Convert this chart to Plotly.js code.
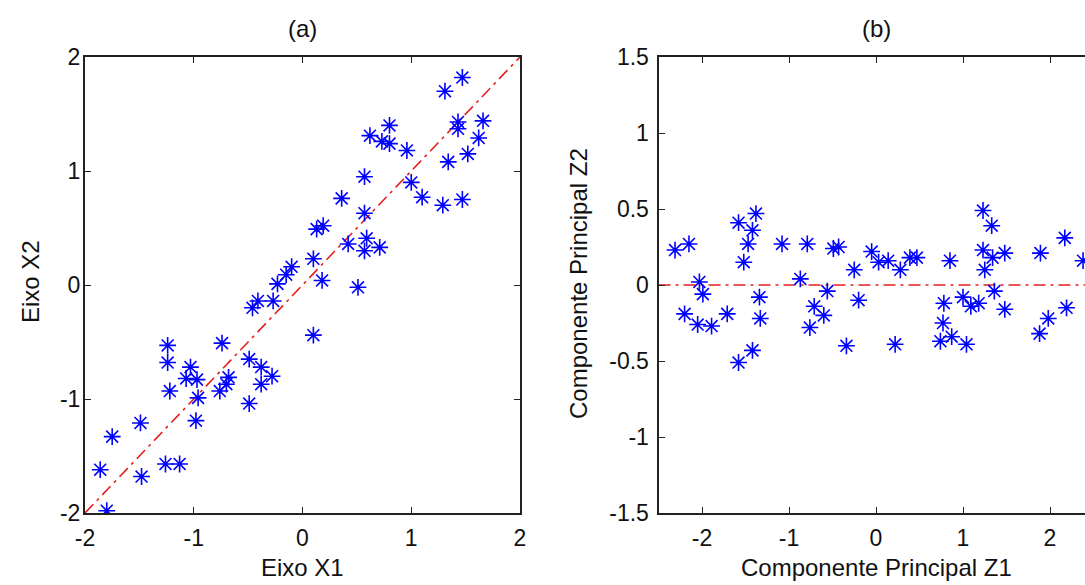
<!DOCTYPE html>
<html>
<head>
<meta charset="utf-8">
<script src="https://cdn.plot.ly/plotly-3.0.1.min.js"></script>
<style>
html, body { margin: 0; padding: 0; overflow: hidden; background: #fff; }
#chart { width: 1100px; height: 585px; }
</style>
</head>
<body>
<div id="chart"></div>
<script>
// (a) original variables
const eixoX1 = [1.47, 1.31, 0.80, 0.62, 0.73, 0.80, 0.96, 1.43, 1.43, 1.66, 1.62, 1.52, 1.34, 0.57, 1.00, 1.10, 1.29, 1.47, 0.36, 0.57, 0.13, 0.19, 0.42, 0.59, 0.57, 0.71, 0.10, -0.10, -0.15, 0.18, 0.51, 0.10, -0.23, -0.41, -0.46, -0.27, -0.74, -1.24, -1.24, -1.03, -1.07, -0.97, -1.22, -0.96, -0.76, -0.70, -0.68, -0.49, -0.38, -0.28, -0.38, -0.49, -0.98, -1.49, -1.75, -1.26, -1.13, -1.48, -1.86, -1.80];
const eixoX2 = [1.82, 1.70, 1.40, 1.31, 1.26, 1.24, 1.18, 1.43, 1.37, 1.44, 1.29, 1.15, 1.08, 0.95, 0.90, 0.77, 0.70, 0.75, 0.76, 0.63, 0.49, 0.52, 0.36, 0.41, 0.30, 0.33, 0.23, 0.16, 0.09, 0.04, -0.02, -0.44, 0.01, -0.14, -0.20, -0.14, -0.51, -0.53, -0.68, -0.72, -0.82, -0.83, -0.93, -0.99, -0.93, -0.87, -0.81, -0.65, -0.72, -0.80, -0.87, -1.04, -1.19, -1.21, -1.33, -1.57, -1.57, -1.68, -1.62, -1.98];

// (b) principal components
const compZ1 = [-2.31, -2.15, -2.03, -1.99, -2.20, -2.05, -1.89, -1.71, -1.58, -1.38, -1.42, -1.47, -1.52, -1.34, -1.33, -1.42, -1.58, -1.08, -0.79, -0.87, -0.56, -0.71, -0.60, -0.76, -0.49, -0.43, -0.34, -0.25, -0.20, -0.05, 0.03, 0.14, 0.28, 0.39, 0.47, 0.22, 0.85, 0.78, 0.77, 0.74, 0.87, 1.04, 1.00, 1.09, 1.18, 1.23, 1.33, 1.23, 1.34, 1.25, 1.48, 1.36, 1.48, 1.89, 1.88, 1.98, 2.17, 2.19, 2.38];
const compZ2 = [0.23, 0.27, 0.02, -0.06, -0.19, -0.26, -0.27, -0.19, 0.41, 0.47, 0.36, 0.27, 0.15, -0.08, -0.22, -0.43, -0.51, 0.27, 0.27, 0.04, -0.04, -0.14, -0.20, -0.28, 0.24, 0.25, -0.40, 0.10, -0.10, 0.22, 0.15, 0.16, 0.10, 0.18, 0.18, -0.39, 0.16, -0.12, -0.25, -0.37, -0.34, -0.39, -0.08, -0.14, -0.12, 0.49, 0.39, 0.23, 0.18, 0.10, 0.21, -0.04, -0.16, 0.21, -0.32, -0.22, 0.31, -0.15, 0.16];

// reference lines
const diagX = [-2, 2];
const diagY = [-2, 2];
const zeroX = [-2.5, 2.5];
const zeroY = [0, 0];

const tickA = [-2, -1, 0, 1, 2];
const tickBx = [-2, -1, 0, 1, 2];
const tickBy = [-1.5, -1, -0.5, 0, 0.5, 1, 1.5];

const FONT = 'Liberation Sans, Arial, sans-serif';
const TXT = '#111';
const marker = { symbol: 'asterisk-open', size: 14, color: 'rgb(0,0,255)', line: { color: 'rgb(0,0,255)', width: 1.6 } };
const dashLine = { color: 'rgb(230,30,30)', width: 1.6, dash: '12px,5px,3px,5px' };

const traces = [
  { x: diagX, y: diagY, xaxis: 'x', yaxis: 'y', mode: 'lines', line: dashLine, hoverinfo: 'skip' },
  { x: eixoX1, y: eixoX2, xaxis: 'x', yaxis: 'y', mode: 'markers', marker: marker },
  { x: zeroX, y: zeroY, xaxis: 'x2', yaxis: 'y2', mode: 'lines', line: dashLine, hoverinfo: 'skip' },
  { x: compZ1, y: compZ2, xaxis: 'x2', yaxis: 'y2', mode: 'markers', marker: marker }
];

const W = 1100, H = 585;
const yDom = [1 - 513 / H, 1 - 57 / H];
const axBase = {
  showgrid: false, zeroline: false, showline: true, linecolor: '#222', linewidth: 2,
  ticks: 'inside', ticklen: 6, tickwidth: 1, tickcolor: '#222',
  tickfont: { family: FONT, size: 23, color: TXT }, fixedrange: true
};

function ann(text, px, py, angle) {
  return { text: text, x: px / W, y: 1 - py / H, xref: 'paper', yref: 'paper', showarrow: false,
    xanchor: 'center', yanchor: 'middle', textangle: angle || 0, font: { family: FONT, size: 24, color: TXT } };
}

const layout = {
  width: W, height: H,
  margin: { l: 0, r: 0, t: 0, b: 0 },
  paper_bgcolor: '#fff', plot_bgcolor: '#fff',
  showlegend: false,
  xaxis: Object.assign({}, axBase, { domain: [85 / W, 520 / W], range: [-2, 2], tickvals: tickA, ticktext: tickA.map(String), mirror: 'ticks', anchor: 'y', ticklabelstandoff: 3 }),
  yaxis: Object.assign({}, axBase, { domain: yDom, range: [-2, 2], tickvals: tickA, ticktext: tickA.map(String), mirror: 'ticks', anchor: 'x', ticklabelstandoff: -2 }),
  xaxis2: Object.assign({}, axBase, { domain: [658.5 / W, 1093.5 / W], range: [-2.5, 2.5], tickvals: tickBx, ticktext: tickBx.map(String), mirror: 'ticks', anchor: 'y2', ticklabelstandoff: 3 }),
  yaxis2: Object.assign({}, axBase, { domain: yDom, range: [-1.5, 1.5], tickvals: tickBy, ticktext: tickBy.map(String), mirror: false, anchor: 'x2', ticklabelstandoff: 3 }),
  annotations: [
    ann('(a)', 302.5, 28),
    ann('(b)', 876, 28),
    ann('Eixo X1', 302.5, 567),
    ann('Componente Principal Z1', 876, 567),
    ann('Eixo X2', 30, 282, -90),
    ann('Componente Principal Z2', 578, 284, -90)
  ]
};

Plotly.newPlot('chart', traces, layout, { displayModeBar: false, staticPlot: true });
</script>
</body>
</html>
